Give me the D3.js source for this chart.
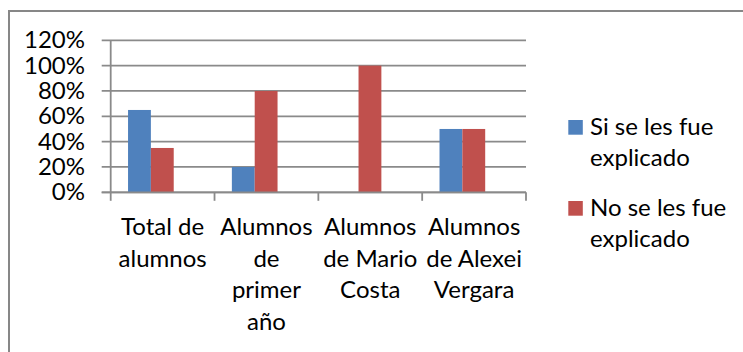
<!DOCTYPE html>
<html>
<head>
<meta charset="utf-8">
<script src="https://cdn.jsdelivr.net/npm/d3@7"></script>
<style>
  body { margin: 0; background: #fff; }
  text { font-family: Lato, "Open Sans", sans-serif; fill: #000; }
</style>
</head>
<body>
<svg id="chart" width="743" height="352"></svg>
<script>
// Categories (line breaks mark how each label wraps under the axis)
const categories = [
  "Total de\nalumnos",
  "Alumnos\nde\nprimer\naño",
  "Alumnos\nde Mario\nCosta",
  "Alumnos\nde Alexei\nVergara"
];
const seriesNames = ["Si se les fue\nexplicado", "No se les fue\nexplicado"];
const siValues = [0.65, 0.20, 0.00, 0.50];
const noValues = [0.35, 0.80, 1.00, 0.50];
const yTicks = [0, 0.2, 0.4, 0.6, 0.8, 1.0, 1.2];
const colors = ["#4F81BD", "#C0504D"];

const seriesValues = [siValues, noValues];
const fontSize = 24;
const lineH = 31.7;

const svg = d3.select("#chart");

// outer chart frame (runs past the right and bottom edges)
svg.append("rect")
  .attr("x", 9).attr("y", 11)
  .attr("width", 800).attr("height", 400)
  .attr("fill", "none")
  .attr("stroke", "#878787")
  .attr("stroke-width", 2);

const plot = { left: 110.7, right: 526, top: 40.3, bottom: 192.3 };

const y = d3.scaleLinear().domain([0, 1.2]).range([plot.bottom, plot.top]);
const x0 = d3.scaleBand().domain(categories).range([plot.left, plot.right]).padding(0);
const x1 = d3.scaleBand().domain([0, 1])
  .range([x0.bandwidth() * 0.167, x0.bandwidth() * 0.607]).padding(0);

// horizontal gridlines with left tick stubs
svg.append("g").selectAll("line")
  .data(yTicks)
  .join("line")
  .attr("x1", plot.left - 9).attr("x2", plot.right)
  .attr("y1", d => y(d)).attr("y2", d => y(d))
  .attr("stroke", "#8a8a8a").attr("stroke-width", 1.8);

// y tick labels
svg.append("g").selectAll("text")
  .data(yTicks)
  .join("text")
  .attr("x", 85)
  .attr("y", d => y(d) + 8)
  .attr("text-anchor", "end")
  .attr("font-size", fontSize)
  .text(d => d3.format(".0%")(d));

// bars
const groups = svg.append("g").selectAll("g")
  .data(categories)
  .join("g")
  .attr("transform", d => `translate(${x0(d)},0)`);

groups.selectAll("rect")
  .data((d, i) => seriesValues.map((vals, s) => ({ s, v: vals[i] })))
  .join("rect")
  .attr("x", d => x1(d.s))
  .attr("width", x1.bandwidth())
  .attr("y", d => y(d.v))
  .attr("height", d => y(0) - y(d.v))
  .attr("fill", d => colors[d.s]);

// vertical axis line
svg.append("line")
  .attr("x1", plot.left).attr("x2", plot.left)
  .attr("y1", plot.top).attr("y2", plot.bottom)
  .attr("stroke", "#8a8a8a").attr("stroke-width", 1.8);

// category axis line and boundary ticks
svg.append("line")
  .attr("x1", plot.left - 9).attr("x2", plot.right)
  .attr("y1", plot.bottom).attr("y2", plot.bottom)
  .attr("stroke", "#8a8a8a").attr("stroke-width", 1.8);

const boundaries = categories.map(c => x0(c)).concat([plot.right]);
svg.append("g").selectAll("line")
  .data(boundaries)
  .join("line")
  .attr("x1", d => d).attr("x2", d => d)
  .attr("y1", plot.bottom).attr("y2", plot.bottom + 8.5)
  .attr("stroke", "#8a8a8a").attr("stroke-width", 1.8);

// category labels
svg.append("g").selectAll("text")
  .data(categories)
  .join("text")
  .attr("text-anchor", "middle")
  .attr("font-size", fontSize)
  .each(function (d) {
    const t = d3.select(this);
    const cx = x0(d) + x0.bandwidth() / 2;
    d.split("\n").forEach((line, k) => {
      t.append("tspan").attr("x", cx).attr("y", 235 + k * lineH).text(line);
    });
  });

// legend
const legendY = [120, 201];
const legend = svg.append("g").selectAll("g")
  .data(seriesNames)
  .join("g")
  .attr("transform", (d, i) => `translate(568.3,${legendY[i]})`);

legend.append("rect")
  .attr("width", 14.5).attr("height", 14.7)
  .attr("fill", (d, i) => colors[i]);

legend.append("text")
  .attr("font-size", fontSize)
  .each(function (d) {
    const t = d3.select(this);
    d.split("\n").forEach((line, k) => {
      t.append("tspan").attr("x", 21.7).attr("y", 14.7 + k * 31.7).text(line);
    });
  });
</script>
</body>
</html>
